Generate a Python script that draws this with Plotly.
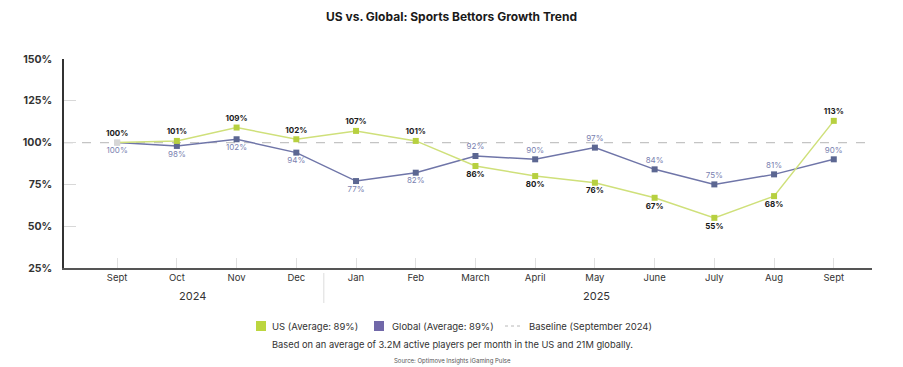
import plotly.graph_objects as go

months = ["Sept", "Oct", "Nov", "Dec", "Jan", "Feb", "March", "April", "May", "June", "July", "Aug", "Sept"]
us_values = [100, 101, 109, 102, 107, 101, 86, 80, 76, 67, 55, 68, 113]
global_values = [100, 98, 102, 94, 77, 82, 92, 90, 97, 84, 75, 81, 90]
us_label_pos = ["top center"] * 6 + ["bottom center"] * 6 + ["top center"]
global_label_pos = ["bottom center"] * 6 + ["top center"] * 7
years = ["2024", "2025"]
y_ticks = [25, 50, 75, 100, 125, 150]
baseline = 100
legend_labels = ["US (Average: 89%)", "Global (Average: 89%)", "Baseline (September 2024)"]

FONT = "Inter"
US_LINE = "#cfe07a"
US_MARK = "#b7d040"
GL_LINE = "#6f75a8"
GL_MARK = "#5c6792"
x = list(range(len(months)))

W, H = 903, 367
L, R, T, B = 64, 31, 59, 99
PW, PH = W - L - R, H - T - B


def py(pix):
    return (H - B - pix) / PH


def px(pix):
    return (pix - L) / PW


fig = go.Figure()

fig.add_trace(go.Scatter(
    x=x, y=global_values, mode="lines+markers+text",
    line=dict(color=GL_LINE, width=1.5),
    marker=dict(symbol="square", size=6, color=["#cfcfd6"] + [GL_MARK] * (len(x) - 1)),
    text=[f"{v}%" for v in global_values], textposition=global_label_pos,
    textfont=dict(family=FONT, size=8, color="#7a7fb0"),
    showlegend=False, hoverinfo="skip", cliponaxis=False,
))
fig.add_trace(go.Scatter(
    x=x, y=us_values, mode="lines+markers+text",
    line=dict(color=US_LINE, width=1.5),
    marker=dict(symbol="square", size=6, color=["#d6d6d6"] + [US_MARK] * (len(x) - 1)),
    text=[f"<b>{v}%</b>" for v in us_values], textposition=us_label_pos,
    textfont=dict(family=FONT, size=8, color="#1a1a1a"),
    showlegend=False, hoverinfo="skip", cliponaxis=False,
))

fig.add_shape(type="line", xref="paper", yref="y", x0=0, x1=1, y0=baseline, y1=baseline,
              line=dict(color="#c4c4c4", width=1.2, dash="dash"), layer="below")

# year separator
fig.add_shape(type="line", xref="x", yref="paper", x0=3.46, x1=3.46, y0=py(273), y1=py(303),
              line=dict(color="#e2e2e2", width=1.2))
fig.add_annotation(x=1.26, y=py(296), xref="x", yref="paper", text=years[0], showarrow=False,
                   yanchor="middle", font=dict(family=FONT, size=11, color="#333"))
fig.add_annotation(x=8.03, y=py(296), xref="x", yref="paper", text=years[1], showarrow=False,
                   yanchor="middle", font=dict(family=FONT, size=11, color="#333"))

# manual legend
ly = 326
fig.add_shape(type="rect", xref="paper", yref="paper", x0=px(256), x1=px(266), y0=py(ly - 5), y1=py(ly + 5),
              fillcolor="#bcd63f", line=dict(width=0))
fig.add_shape(type="rect", xref="paper", yref="paper", x0=px(374), x1=px(384), y0=py(ly - 5), y1=py(ly + 5),
              fillcolor="#7168a9", line=dict(width=0))
fig.add_shape(type="line", xref="paper", yref="paper", x0=px(505), x1=px(522), y0=py(ly), y1=py(ly),
              line=dict(color="#b8b8b8", width=1, dash="dot"))
for lx, lab in zip([270, 390, 527], legend_labels):
    fig.add_annotation(x=px(lx), y=py(ly), xref="paper", yref="paper", xanchor="left", yanchor="middle",
                       text=lab, showarrow=False, font=dict(family=FONT, size=9.5, color="#333"))

fig.add_annotation(x=px(452), y=py(344), xref="paper", yref="paper", xanchor="center", yanchor="middle",
                   text="Based on an average of 3.2M active players per month in the US and 21M globally.",
                   showarrow=False, font=dict(family=FONT, size=9.3, color="#333"))
fig.add_annotation(x=px(452), y=py(361), xref="paper", yref="paper", xanchor="center", yanchor="middle",
                   text="Source: Optimove Insights iGaming Pulse",
                   showarrow=False, font=dict(family=FONT, size=6, color="#555"))

fig.update_layout(
    width=W, height=H,
    margin=dict(l=L, r=R, t=T, b=B, autoexpand=False),
    paper_bgcolor="white", plot_bgcolor="white",
    title=dict(text="<b>US vs. Global: Sports Bettors Growth Trend</b>", x=0.5, xanchor="center",
               y=1 - 17 / H, yanchor="middle", font=dict(family=FONT, size=12, color="#1a1a1a")),
    font=dict(family=FONT),
    showlegend=False,
    xaxis=dict(
        range=[-0.89, 12.64], tickmode="array", tickvals=x, ticktext=months,
        showgrid=False, zeroline=False, showline=True, linecolor="#555", linewidth=2,
        ticks="inside", ticklen=10, tickcolor="#e0e0e0", tickwidth=1,
        tickfont=dict(family=FONT, size=9.5, color="#333"),
    ),
    yaxis=dict(
        range=[25, 150], tickmode="array", tickvals=y_ticks, ticktext=[f"<b>{v}%</b>" for v in y_ticks],
        showgrid=False, zeroline=False, showline=True, linecolor="#333", linewidth=1.5,
        ticks="inside", ticklen=12, tickcolor="#d8d8d8", tickwidth=1,
        tickfont=dict(family=FONT, size=10.5, color="#333"), ticklabelstandoff=8,
    ),
)

fig.write_html("out.html", config={"displayModeBar": False},
               post_script="document.body.style.margin='0';")
